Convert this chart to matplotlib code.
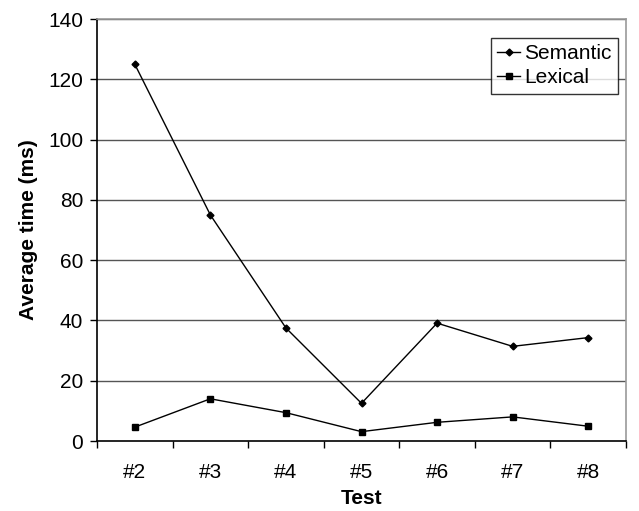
import matplotlib
matplotlib.use("Agg")
import matplotlib.pyplot as plt
import numpy as np

plt.rcParams['font.family'] = ['Liberation Sans', 'DejaVu Sans']

tests = ["#2", "#3", "#4", "#5", "#6", "#7", "#8"]
semantic = [125, 75, 37.5, 12.5, 39.1, 31.4, 34.3]
lexical = [4.6, 14.0, 9.4, 3.1, 6.2, 8.0, 4.9]
yticks = [0, 20, 40, 60, 80, 100, 120, 140]

FS = 15

fig = plt.figure(figsize=(6.39, 5.11), dpi=100)
ax = fig.add_axes([97/639, 1-441/511, (626-97)/639, (441-19)/511])

x = np.arange(len(tests))
ax.plot(x, semantic, color='black', lw=1, marker='D', ms=3.5, label='Semantic', zorder=3)
ax.plot(x, lexical, color='black', lw=1, marker='s', ms=5, label='Lexical', zorder=3)

ax.set_xlim(-0.5, len(tests) - 0.5)
ax.set_ylim(0, 140)
ax.set_yticks(yticks)
ax.set_yticklabels([str(v) for v in yticks], fontsize=FS)
ax.set_xticks(np.arange(-0.5, len(tests), 1.0))
ax.set_xticklabels([])
ax.set_xticks(x, minor=True)
ax.set_xticklabels(tests, minor=True, fontsize=FS)
ax.tick_params(axis='x', which='minor', length=0, pad=16)
ax.tick_params(axis='x', which='major', length=5, width=1, direction='out', color='black')
ax.tick_params(axis='y', length=5, width=1, direction='out', pad=5)

for v in yticks[1:]:
    ax.axhline(v, color='#555555', lw=1, zorder=1)

for s in ['left', 'bottom']:
    ax.spines[s].set_color('black')
    ax.spines[s].set_linewidth(1.2)
for s in ['top', 'right']:
    ax.spines[s].set_color('#999999')
    ax.spines[s].set_linewidth(1.2)

ax.set_xlabel('Test', fontsize=FS, fontweight='bold', labelpad=5)
ax.set_ylabel('Average time (ms)', fontsize=FS, fontweight='bold', labelpad=7)

leg = ax.legend(loc='upper right', bbox_to_anchor=(0.985, 0.955), fontsize=FS,
                frameon=True, fancybox=False, handlelength=1.1, handletextpad=0.2,
                borderpad=0.3, labelspacing=0.25, borderaxespad=0)
leg.get_frame().set_edgecolor('black')
leg.get_frame().set_linewidth(1)

fig.savefig('out.png', dpi=100)
